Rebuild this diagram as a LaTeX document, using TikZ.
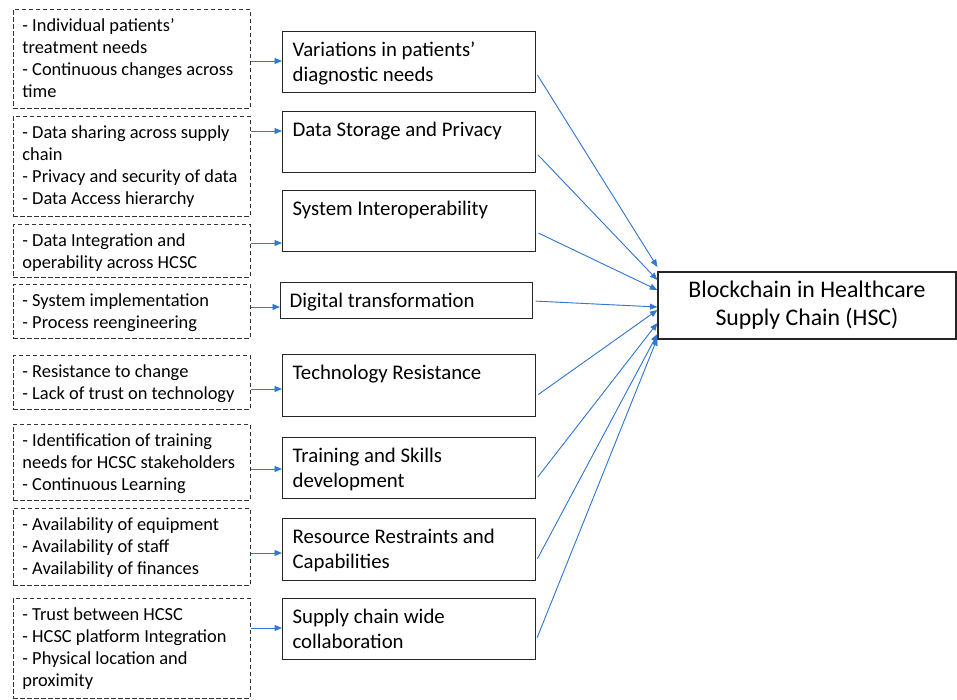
\documentclass[tikz,border=0pt]{standalone}
\usepackage{fontspec}
\setmainfont{Carlito}
\usetikzlibrary{arrows.meta}
\definecolor{arrblue}{RGB}{50,120,210}
\newcommand{\ltext}[3]{\parbox[t][#1pt][t]{#2pt}{\raggedright\fontsize{18.4}{21.8}\selectfont\rule{0pt}{22.5pt}#3}}
\newcommand{\mtext}[3]{\parbox[t][#1pt][t]{#2pt}{\raggedright\fontsize{20.8}{25}\selectfont\rule{0pt}{24.5pt}#3}}
\tikzset{
  lbox/.style={draw=black!80, dash pattern=on 4.5pt off 2.5pt, line width=0.9pt, anchor=north west, inner xsep=9pt, inner ysep=0pt},
  mbox/.style={draw=black!85, line width=1.2pt, anchor=north west, inner xsep=10pt, inner ysep=0pt},
  rbox/.style={draw=black!85, line width=1.2pt, minimum width=298pt, minimum height=67pt, align=center, inner sep=0pt, font=\fontsize{23.8}{28}\selectfont},
  arr/.style={draw=arrblue, line width=0.9pt, -{Triangle[length=7.5pt,width=6pt]}, fill=arrblue},
}
\begin{document}
\begin{tikzpicture}[x=1pt,y=-1pt]
\useasboundingbox (0,0) rectangle (957,699);
% left dashed boxes
\node[lbox] (L1) at (13,9) {\ltext{99}{219}{- Individual patients’\\treatment needs\\- Continuous changes across\\time}};
\node[lbox] (L2) at (13,116) {\ltext{100}{219}{- Data sharing across supply\\chain\\- Privacy and security of data\\- Data Access hierarchy}};
\node[lbox] (L3) at (13,224) {\ltext{53}{219}{- Data Integration and\\operability across HCSC}};
\node[lbox] (L4) at (13,284) {\ltext{54}{219}{- System implementation\\- Process reengineering}};
\node[lbox] (L5) at (13,355) {\ltext{54}{219}{- Resistance to change\\- Lack of trust on technology}};
\node[lbox] (L6) at (13,424) {\ltext{76}{219}{- Identification of training\\needs for HCSC stakeholders\\- Continuous Learning}};
\node[lbox] (L7) at (13,508) {\ltext{77}{219}{- Availability of equipment\\- Availability of staff\\- Availability of finances}};
\node[lbox] (L8) at (13,598) {\ltext{100}{219}{- Trust between HCSC\\- HCSC platform Integration\\- Physical location and\\proximity}};
% middle boxes
\node[mbox] (M1) at (282,31) {\mtext{61}{233}{Variations in patients’\\diagnostic needs}};
\node[mbox] (M2) at (282,111) {\mtext{61}{233}{Data Storage and Privacy}};
\node[mbox] (M3) at (282,190) {\mtext{61}{233}{System Interoperability}};
\node[mbox, inner xsep=9pt] (M4) at (280,282) {\mtext{36}{234}{Digital transformation}};
\node[mbox] (M5) at (282,354) {\mtext{62}{233}{Technology Resistance}};
\node[mbox] (M6) at (282,437) {\mtext{61}{233}{Training and Skills\\development}};
\node[mbox] (M7) at (282,518) {\mtext{62}{233}{Resource Restraints and\\Capabilities}};
\node[mbox] (M8) at (282,598) {\mtext{61}{233}{Supply chain wide\\collaboration}};
% right box
\node[rbox] (R) at (807,305.5) {Blockchain in Healthcare\\Supply Chain (HSC)};
% left arrows
\draw[arr] (L1.east |- 0,61) -- (M1.west |- 0,61);
\draw[arr] (L2.east |- 0,131) -- (M2.west |- 0,131);
\draw[arr] (L3.east |- 0,243) -- (M3.west |- 0,243);
\draw[arr] (L4.east |- 0,307) -- (M4.west |- 0,307);
\draw[arr] (L5.east |- 0,389) -- (M5.west |- 0,389);
\draw[arr] (L6.east |- 0,469) -- (M6.west |- 0,469);
\draw[arr] (L7.east |- 0,553) -- (M7.west |- 0,553);
\draw[arr] (L8.east |- 0,628) -- (M8.west |- 0,628);
% right arrows
\draw[arr, shorten <=2.5pt] (M1.east |- 0,73) -- (R.west |- 0,267);
\draw[arr, shorten <=2.5pt] (M2.east |- 0,153) -- (R.west |- 0,280);
\draw[arr, shorten <=2.5pt] (M3.east |- 0,232) -- (R.west |- 0,290);
\draw[arr, shorten <=2.5pt] (M4.east |- 0,301) -- (R.west |- 0,307);
\draw[arr, shorten <=2.5pt] (M5.east |- 0,396) -- (R.west |- 0,310);
\draw[arr, shorten <=2.5pt] (M6.east |- 0,479) -- (R.west |- 0,323);
\draw[arr, shorten <=2.5pt] (M7.east |- 0,561) -- (R.west |- 0,334);
\draw[arr, shorten <=2.5pt] (M8.east |- 0,640) -- (R.west |- 0,338);
\end{tikzpicture}
\end{document}
